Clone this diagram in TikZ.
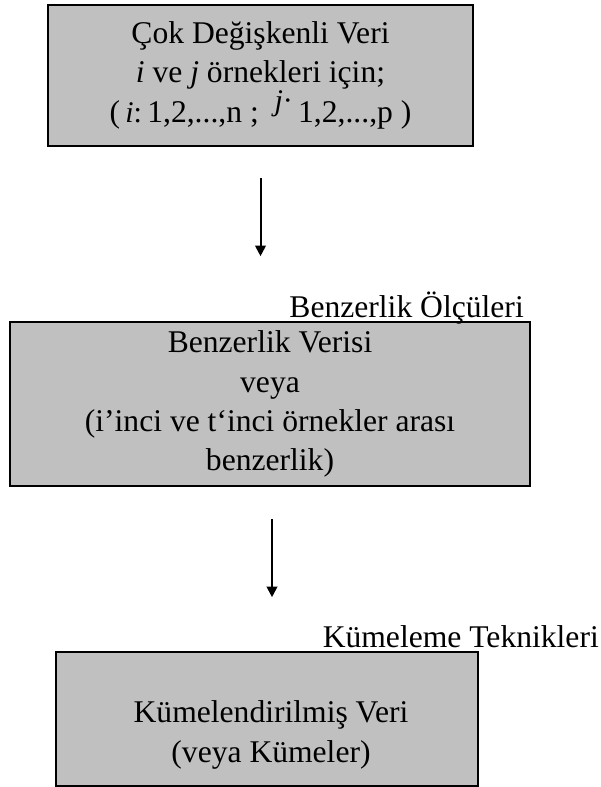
\documentclass[tikz,border=0pt]{standalone}
\usepackage{fontspec}
\setmainfont{Liberation Serif}
\usetikzlibrary{arrows.meta}
\definecolor{boxgray}{HTML}{C0C0C0}
\newcommand{\smallvar}[1]{{\fontsize{22.5}{22.5}\selectfont #1}}
\begin{document}
\begin{tikzpicture}[x=0.75pt,y=-0.75pt,
  every node/.style={font=\fontsize{23.7}{29.4}\selectfont, inner sep=0pt},
  box/.style={draw=black, fill=boxgray, rectangle, align=center},
  arr/.style={line width=1.5pt, -{Triangle[length=8pt,width=8pt]}},
  lbl/.style={anchor=base east}]
\useasboundingbox (0,0) rectangle (600,787);
\node[box, line width=1.5pt, minimum width=318.75pt, minimum height=105.75pt] (b1) at (260.5,75.5)
  {Çok Değişkenli Veri\\ \textit{i} ve \textit{j} örnekleri için;\\
   (\,\smallvar{\textit{i}:}\,1,2,...,n ;\ \ \raisebox{0.4em}{\smallvar{\textit{j}·}}\,1,2,...,p )};
\node[box, line width=1.2pt, minimum width=390pt, minimum height=123pt] (b2) at (270,404)
  {Benzerlik Verisi\\ veya\\ (i’inci ve t‘inci örnekler arası\\ benzerlik)};
\node[box, line width=1.2pt, minimum width=316.5pt, minimum height=100.5pt] (b3) at (267,719) {};
\node[align=center] (t3) at (271,735) {Kümelendirilmiş Veri\\(veya Kümeler)};
\node[lbl] (l1) at (524,317) {Benzerlik Ölçüleri};
\node[lbl] (l2) at (599,647) {Kümeleme Teknikleri};
\draw[arr, shorten <=23.25pt, shorten >=48.75pt] (b1.south) -- (b1.south |- b2.north);
\draw[arr, shorten <=24pt, shorten >=40.5pt] ([xshift=1.5pt]b2.south) -- ([xshift=1.5pt]b2.south |- b3.north);
\end{tikzpicture}
\end{document}
